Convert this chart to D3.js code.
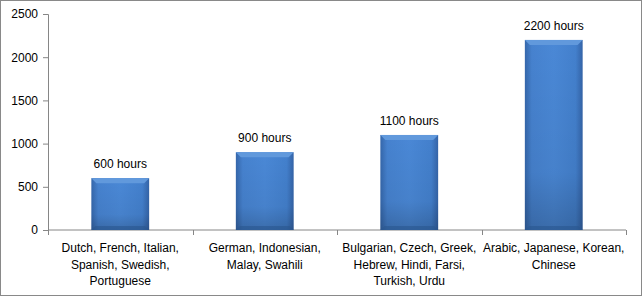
<!DOCTYPE html>
<html>
<head>
<meta charset="utf-8">
<script src="https://cdn.jsdelivr.net/npm/d3@7"></script>
<style>
  body { margin: 0; background: #fff; }
  svg { display: block; font-family: "Liberation Sans", Arial, sans-serif; }
</style>
</head>
<body>
<div id="chart"></div>
<script>
// data
var categories = [
  ["Dutch, French, Italian,", "Spanish, Swedish,", "Portuguese"],
  ["German, Indonesian,", "Malay, Swahili"],
  ["Bulgarian, Czech, Greek,", "Hebrew, Hindi, Farsi,", "Turkish, Urdu"],
  ["Arabic, Japanese, Korean,", "Chinese"]
];
var hours = [600, 900, 1100, 2200];
var valueLabels = ["600 hours", "900 hours", "1100 hours", "2200 hours"];
var yTicks = [0, 500, 1000, 1500, 2000, 2500];

var svgWidth = 643;
var svgHeight = 297;
var margin = { top: 14, right: 17, bottom: 67, left: 48 };
var chartWidth = svgWidth - margin.left - margin.right;
var chartHeight = svgHeight - margin.top - margin.bottom;

var svg = d3.select("#chart").append("svg")
  .attr("width", svgWidth)
  .attr("height", svgHeight);

// outer chart border
svg.append("rect")
  .attr("x", 0.5).attr("y", 0.5)
  .attr("width", svgWidth - 2).attr("height", svgHeight - 2)
  .attr("fill", "#fff")
  .attr("stroke", "#898989");

var defs = svg.append("defs");
var grad = defs.append("linearGradient").attr("id", "barGrad")
  .attr("x1", "0").attr("x2", "1").attr("y1", "0").attr("y2", "0");
grad.append("stop").attr("offset", "0%").attr("stop-color", "#3567ab");
grad.append("stop").attr("offset", "12%").attr("stop-color", "#4682cf");
grad.append("stop").attr("offset", "50%").attr("stop-color", "#4a88d6");
grad.append("stop").attr("offset", "88%").attr("stop-color", "#4380cd");
grad.append("stop").attr("offset", "100%").attr("stop-color", "#3464a8");

var shade = defs.append("linearGradient").attr("id", "barShade")
  .attr("x1", "0").attr("x2", "0").attr("y1", "0").attr("y2", "1");
shade.append("stop").attr("offset", "0%").attr("stop-color", "#000").attr("stop-opacity", 0);
shade.append("stop").attr("offset", "70%").attr("stop-color", "#000").attr("stop-opacity", 0.05);
shade.append("stop").attr("offset", "100%").attr("stop-color", "#000").attr("stop-opacity", 0.2);

var g = svg.append("g")
  .attr("transform", `translate(${margin.left}, ${margin.top})`);

var x = d3.scaleBand()
  .domain(d3.range(categories.length))
  .range([0, chartWidth])
  .paddingInner(0.6)
  .paddingOuter(0.3);

var y = d3.scaleLinear()
  .domain([0, 2500])
  .range([chartHeight, 0]);

// y axis
var yAxis = g.append("g")
  .call(d3.axisLeft(y).tickValues(yTicks).tickFormat(d3.format("d")).tickSize(5).tickPadding(5));
yAxis.selectAll("path, line").attr("stroke", "#868686");
yAxis.selectAll("text").attr("font-size", "12px").attr("fill", "#000");

// x axis line with ticks at band edges
var xLine = g.append("g").attr("transform", `translate(0, ${chartHeight})`);
xLine.append("line")
  .attr("x1", 0).attr("x2", chartWidth)
  .attr("stroke", "#868686");
var step = x.step();
d3.range(categories.length + 1).forEach(function(i) {
  var px = Math.round(x(0) - x.paddingOuter() * step + i * step) + 0.5;
  xLine.append("line")
    .attr("x1", px).attr("x2", px).attr("y1", 0).attr("y2", 5)
    .attr("stroke", "#868686");
});

// bars
var bars = g.selectAll(".bar").data(hours).enter().append("g").attr("class", "bar");
bars.append("rect")
  .attr("x", (d, i) => x(i))
  .attr("y", d => y(d))
  .attr("width", x.bandwidth())
  .attr("height", d => chartHeight - y(d))
  .attr("fill", "url(#barGrad)");
bars.append("rect")
  .attr("x", (d, i) => x(i))
  .attr("y", d => y(d))
  .attr("width", x.bandwidth())
  .attr("height", d => chartHeight - y(d))
  .attr("fill", "url(#barShade)");
// top bevel
bars.append("polygon")
  .attr("points", function(d, i) {
    var x0 = x(i), x1 = x(i) + x.bandwidth(), t = y(d), b = 5;
    return [[x0, t], [x1, t], [x1 - b, t + b], [x0 + b, t + b]].join(" ");
  })
  .attr("fill", "#6199dc");
// bottom bevel
bars.append("polygon")
  .attr("points", function(d, i) {
    var x0 = x(i), x1 = x(i) + x.bandwidth(), bt = chartHeight, b = 4;
    return [[x0, bt], [x1, bt], [x1 - b, bt - b], [x0 + b, bt - b]].join(" ");
  })
  .attr("fill", "#2a568f").attr("opacity", 0.6);

// value labels
g.selectAll(".vlabel").data(hours).enter().append("text")
  .attr("x", (d, i) => x(i) + x.bandwidth() / 2)
  .attr("y", d => y(d) - 10)
  .attr("text-anchor", "middle")
  .attr("font-size", "12px")
  .attr("fill", "#000")
  .text((d, i) => valueLabels[i]);

// category labels
categories.forEach(function(lines, i) {
  var t = g.append("text")
    .attr("x", x(i) + x.bandwidth() / 2)
    .attr("y", chartHeight + 22)
    .attr("text-anchor", "middle")
    .attr("font-size", "12px")
    .attr("fill", "#000");
  lines.forEach(function(line, j) {
    t.append("tspan")
      .attr("x", x(i) + x.bandwidth() / 2)
      .attr("dy", j === 0 ? 0 : 16.5)
      .text(line);
  });
});
</script>
</body>
</html>
